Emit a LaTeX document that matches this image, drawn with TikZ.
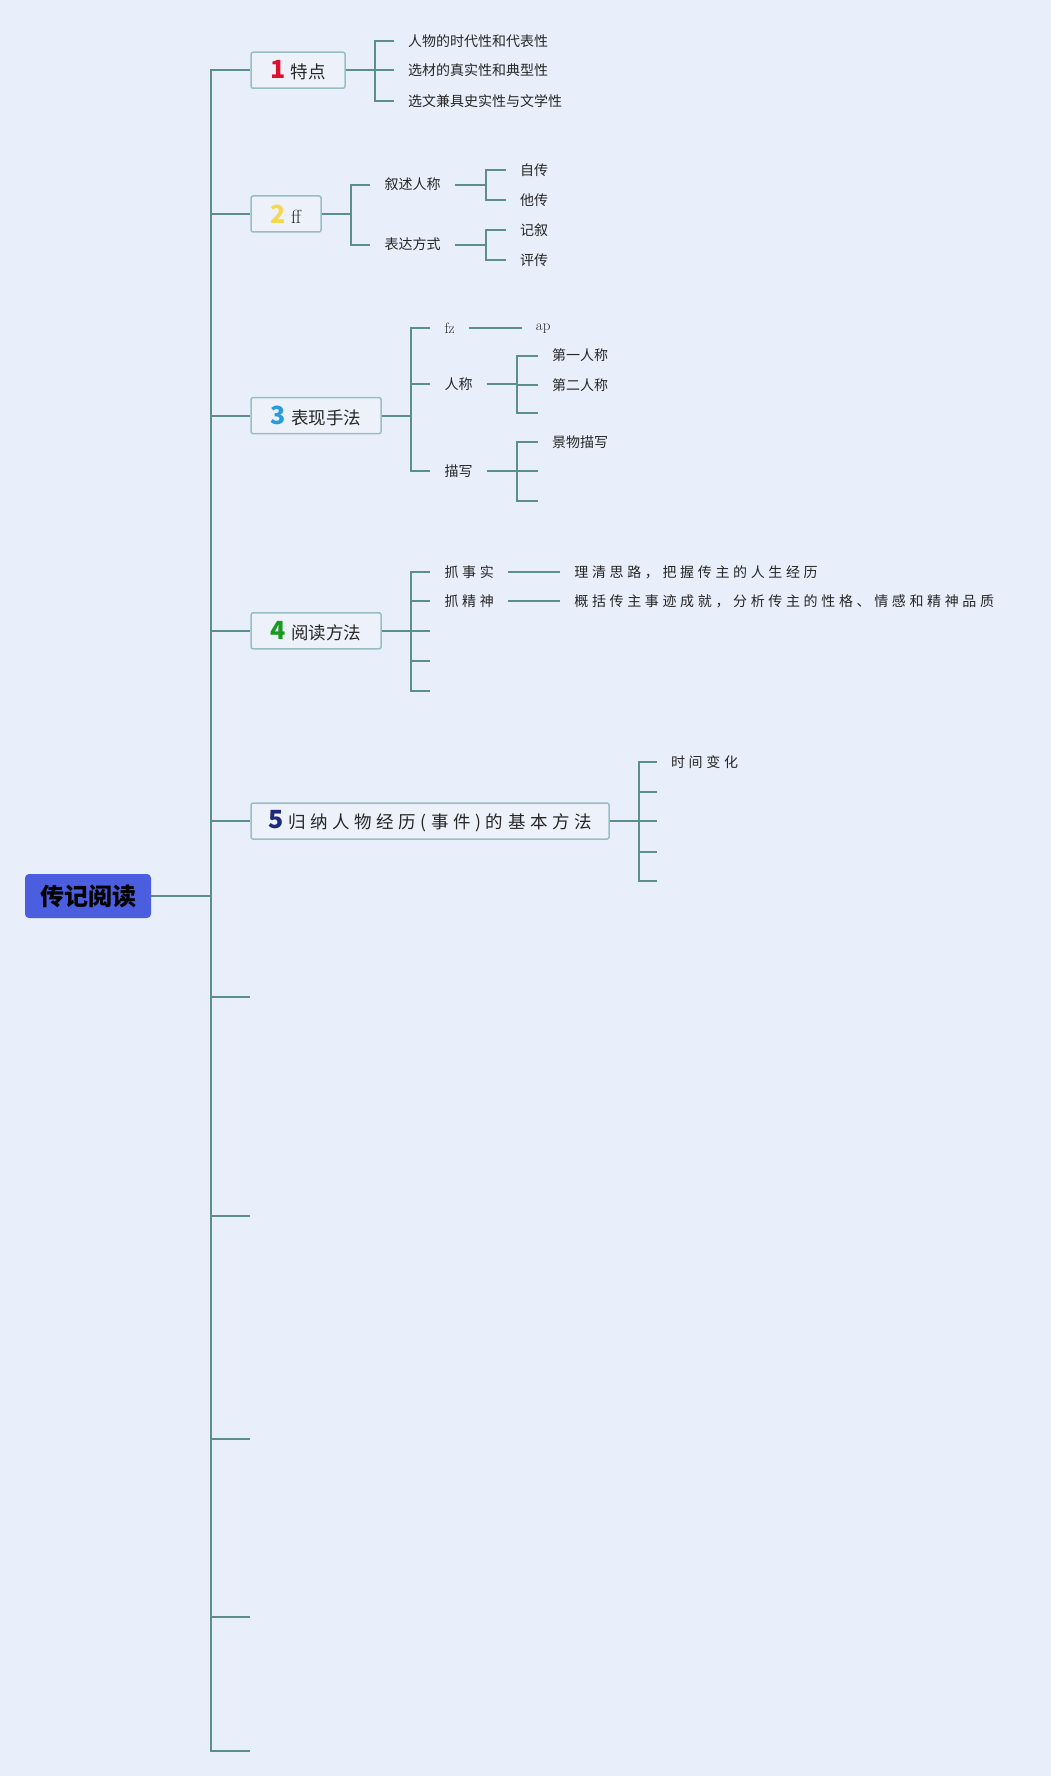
\documentclass[tikz,border=0pt]{standalone}
\usepackage{fontspec}
\usepackage{tikz}
\usetikzlibrary{positioning}
\newfontfamily\cjk{Noto Sans CJK SC}
\newfontfamily\cjkwide[LetterSpace=26]{Noto Sans CJK SC}
\definecolor{pagebg}{RGB}{233,238,251}
\definecolor{linec}{RGB}{92,143,140}
\definecolor{boxline}{RGB}{152,190,196}
\definecolor{boxfill}{RGB}{237,242,250}
\definecolor{rootc}{RGB}{74,94,223}
\definecolor{onec}{RGB}{222,16,48}
\definecolor{twoc}{RGB}{245,216,76}
\definecolor{threec}{RGB}{40,156,222}
\definecolor{fourc}{RGB}{22,155,30}
\definecolor{fivec}{RGB}{28,40,120}
\newcommand{\topicnum}[2]{{\color{#1}\fontsize{25}{25}\selectfont\bfseries #2}\hspace{5pt}}

\begin{document}
\begin{tikzpicture}[
  x=1pt, y=-1pt,
  link/.style={draw=linec, line width=2pt},
  rootbox/.style={fill=rootc, rounded corners=4pt, minimum width=126pt,
    minimum height=44pt, font=\cjk\bfseries\fontsize{24}{24}\selectfont, text=black},
  topic/.style={draw=boxline, fill=boxfill, line width=1.5pt, rounded corners=2pt,
    minimum height=36pt, inner xsep=10pt, anchor=west,
    font=\cjk\fontsize{17.5}{17.5}\selectfont, text=black!85},
  leaf/.style={anchor=west, inner xsep=14pt, inner ysep=2pt,
    font=\cjk\fontsize{14}{14}\selectfont, text=black!85},
  wide/.style={leaf, font=\cjkwide\fontsize{14}{14}\selectfont}
]
\fill[pagebg] (0,0) rectangle (1051,1776);
\useasboundingbox (0,0) rectangle (1051,1776);

% root and trunk
\node[rootbox] (root) at (88,896) {传记阅读};
\coordinate (trunk) at (210.6,896);

\node[topic, minimum width=94pt] (t1) at (250.3,70.2) {\topicnum{onec}{1}特点};
\node[topic, minimum width=70pt] (t2) at (250.3,214) {\topicnum{twoc}{2}{\rmfamily\fontsize{19}{19}\selectfont ff}};
\node[topic, minimum width=130pt] (t3) at (250.3,415.6) {\topicnum{threec}{3}表现手法};
\node[topic, minimum width=130pt] (t4) at (250.3,630.8) {\topicnum{fourc}{4}阅读方法};
\node[topic, minimum width=358pt, font=\cjkwide\fontsize{17.5}{17.5}\selectfont] (t5) at (250.3,821)
  {\topicnum{fivec}{5}归纳人物经历(事件)的基本方法};
\coordinate (t6) at (250.3,996.6);
\coordinate (t7) at (250.3,1216.3);
\coordinate (t8) at (250.3,1439.4);
\coordinate (t9) at (250.3,1617.2);
\coordinate (t10) at (250.3,1750.9);

\draw[link] (root.east) -- (trunk);
\foreach \t in {t1,t2,t3,t4,t5} \draw[link] (trunk) |- (\t.west);
\foreach \t in {t6,t7,t8,t9,t10} \draw[link] (trunk) |- (\t);

% 1
\node[leaf] (a1) at (394,40.8) {人物的时代性和代表性};
\node[leaf] (a2) at (394,70.2) {选材的真实性和典型性};
\node[leaf] (a3) at (394,100.8) {选文兼具史实性与文学性};
\foreach \c in {a1,a2,a3} \draw[link] (t1.east) -- ++(29.5,0) |- (\c.west);

% 2
\node[leaf] (b1) at (370.3,184.6) {叙述人称};
\node[leaf] (b2) at (370.3,244.6) {表达方式};
\foreach \c in {b1,b2} \draw[link] (t2.east) -- ++(29.5,0) |- (\c.west);
\node[leaf] (b11) at (506,170) {自传};
\node[leaf] (b12) at (506,200.5) {他传};
\node[leaf] (b21) at (506,230) {记叙};
\node[leaf] (b22) at (506,260.5) {评传};
\foreach \c in {b11,b12} \draw[link] (b1.east) -- ++(31,0) |- (\c.west);
\foreach \c in {b21,b22} \draw[link] (b2.east) -- ++(31,0) |- (\c.west);

% 3
\node[leaf] (c1) at (430.3,328.4) {\rmfamily\fontsize{15}{15}\selectfont fz};
\node[leaf] (c2) at (430.3,384) {人称};
\node[leaf] (c3) at (430.3,471) {描写};
\foreach \c in {c1,c2,c3} \draw[link] (t3.east) -- ++(29.5,0) |- (\c.west);
\node[leaf] (c11) at (521.7,328.4) {\rmfamily\fontsize{15}{15}\selectfont ap};
\draw[link] (c1.east) -- (c11.west);
\node[leaf] (c21) at (538,355.6) {第一人称};
\node[leaf] (c22) at (538,385) {第二人称};
\coordinate (c23) at (538,413.4);
\foreach \c in {c21,c22} \draw[link] (c2.east) -- ++(30,0) |- (\c.west);
\draw[link] (c2.east) -- ++(30,0) |- (c23);
\node[leaf] (c31) at (538,441.7) {景物描写};
\coordinate (c32) at (538,471);
\coordinate (c33) at (538,500.6);
\draw[link] (c3.east) -- ++(30,0) |- (c31.west);
\foreach \c in {c32,c33} \draw[link] (c3.east) -- ++(30,0) |- (\c);

% 4
\node[wide] (d1) at (430.3,572) {抓事实};
\node[wide] (d2) at (430.3,601.4) {抓精神};
\coordinate (d3) at (430.3,630.8);
\coordinate (d4) at (430.3,661.4);
\coordinate (d5) at (430.3,690.8);
\foreach \c in {d1,d2} \draw[link] (t4.east) -- ++(29.5,0) |- (\c.west);
\foreach \c in {d3,d4,d5} \draw[link] (t4.east) -- ++(29.5,0) |- (\c);
\node[wide] (d11) at (560.2,572) {理清思路，把握传主的人生经历};
\node[wide] (d21) at (560.2,601.4) {概括传主事迹成就，分析传主的性格、情感和精神品质};
\draw[link] (d1.east) -- (d11.west);
\draw[link] (d2.east) -- (d21.west);

% 5
\node[wide] (e1) at (656.9,762) {时间变化};
\coordinate (e2) at (656.9,791.6);
\coordinate (e3) at (656.9,821);
\coordinate (e4) at (656.9,851.6);
\coordinate (e5) at (656.9,881);
\draw[link] (t5.east) -- ++(29.5,0) |- (e1.west);
\foreach \c in {e2,e3,e4,e5} \draw[link] (t5.east) -- ++(29.5,0) |- (\c);
\end{tikzpicture}
\end{document}
